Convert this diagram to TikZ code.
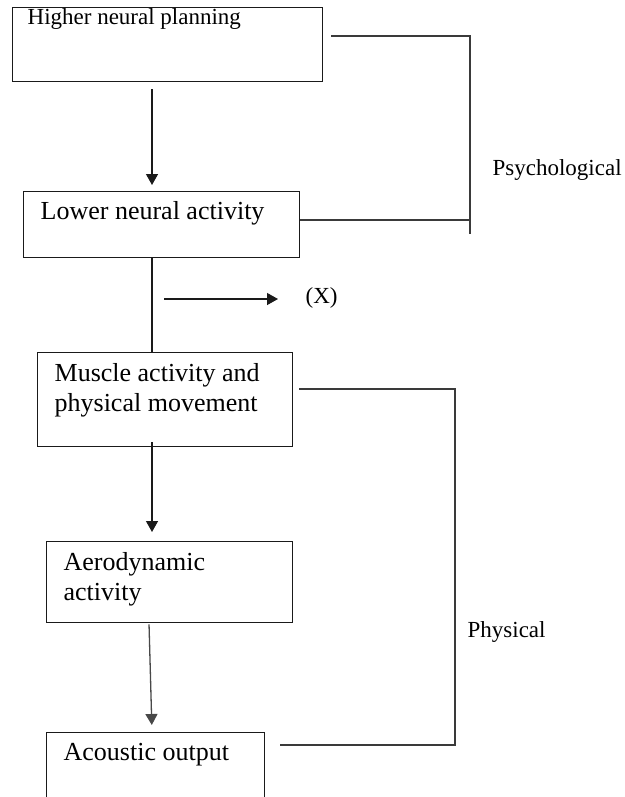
\documentclass[tikz,border=0pt]{standalone}
\usepackage{fontspec}
\setmainfont{Liberation Serif}
\usetikzlibrary{arrows.meta, positioning, calc}
\definecolor{inkc}{HTML}{1A1A1A}
\definecolor{brc}{HTML}{3A3A3A}
\newcommand{\stagefont}{\fontsize{26}{30}\selectfont}
\newcommand{\sidefont}{\fontsize{23}{27}\selectfont}
\newcommand{\stage}[6]{%
  \node[draw=inkc, line width=1.3pt, minimum width=#3, minimum height=#4,
        inner sep=0pt, anchor=north west] (#1) at #2 {};
  \node[anchor=base west, align=left, inner sep=0pt, font=\stagefont]
        (#1-t) at ($(#1.north west)+#5$) {#6};
}

\begin{document}
\begin{tikzpicture}[x=1pt, y=-1pt, >={Triangle[length=11pt, width=12pt]},
      line width=1.3pt, bracket/.style={brc, line width=1.3pt}]
    \useasboundingbox (0,0) rectangle (624,797);
    \stage{plan}{(12,7)}{310pt}{74pt}{(15,18)}{{\sidefont Higher neural planning}}
    \stage{lower}{(23,191)}{276pt}{66pt}{(17,28)}{Lower neural activity}
    \stage{muscle}{(37,352)}{255pt}{94pt}{(17,59)}{Muscle activity and\\physical movement}
    \stage{aero}{(46,541)}{246pt}{81pt}{(17,59)}{Aerodynamic\\activity}
    \stage{sound}{(46,732)}{218pt}{75pt}{(17,28)}{Acoustic output}
    \coordinate (spine) at (152,0);
    % main chain
    \draw[->, inkc, shorten <=7pt, shorten >=6pt] (plan.south -| spine) -- (lower.north -| spine);
    \draw[inkc] (lower.south -| spine) -- (muscle.north -| spine);
    \draw[->, inkc, shorten <=-5pt, shorten >=9pt] (muscle.south -| spine) -- (aero.north -| spine);
    \draw[->, inkc!80, shorten <=1pt, shorten >=7pt] ($(aero.south -| spine)+(-3,0)$) -- (sound.north -| spine);
    % side branch
    \node[font=\sidefont, anchor=base west, inner sep=0pt] (x) at (305,303) {(X)};
    \coordinate (xtail) at (164,299);
    \draw[->, inkc, shorten >=27pt] (xtail) -- (x.west |- xtail);
    % brackets
    \coordinate (psyTop) at (470,36);
    \coordinate (psyLow) at (470,220);
    \coordinate (psyEnd) at (470,234);
    \draw[bracket] ($(plan.east |- psyTop)+(8,0)$) -- (psyTop) -- (psyEnd);
    \draw[bracket] (lower.east |- psyLow) -- (psyLow);
    \node[font=\sidefont, anchor=base west, inner sep=0pt] (psy) at (492,175) {Psychological};
    \coordinate (phyTop) at (455,389);
    \coordinate (phyLow) at (455,745);
    \draw[bracket] ($(muscle.east |- phyTop)+(6,0)$) -- (phyTop) -- (phyLow)
      -- ($(sound.east |- phyLow)+(15,0)$);
    \node[font=\sidefont, anchor=base west, inner sep=0pt] (phy) at (467,637) {Physical};
\end{tikzpicture}
\end{document}
